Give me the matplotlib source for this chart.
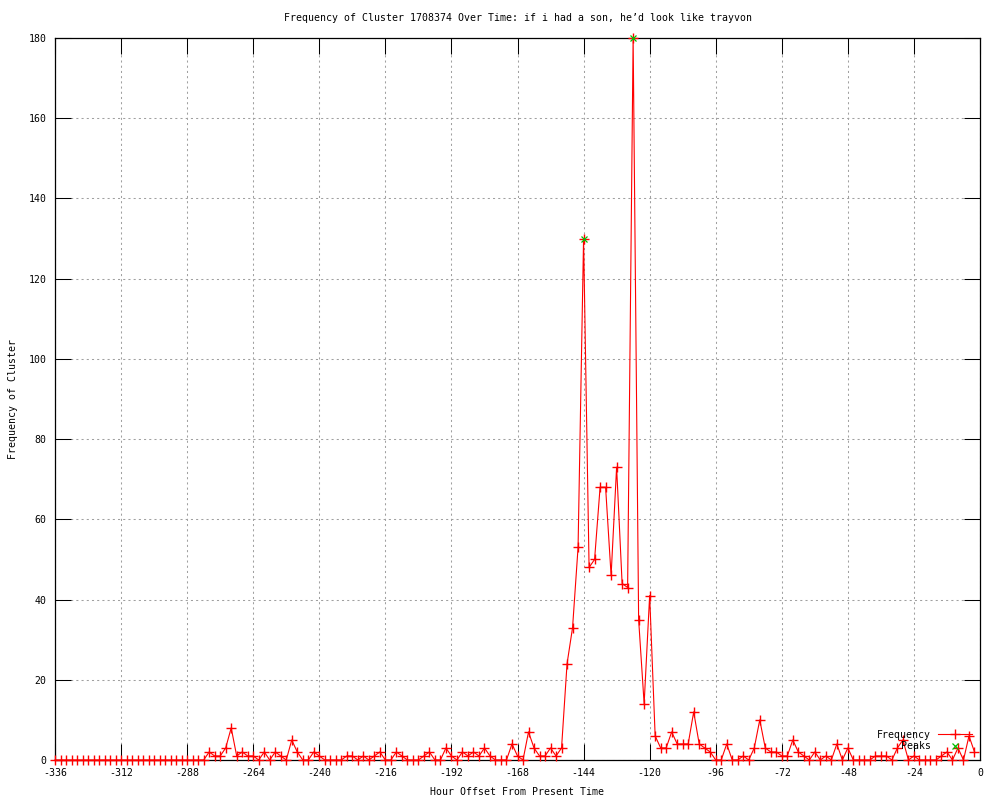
import matplotlib
matplotlib.use("Agg")
import matplotlib.pyplot as plt

# Hour offsets (every 2 hours) and cluster frequency
hours = list(range(-336, 0, 2))
freq = [0] * 28 + [
    2, 1, 1, 3, 8, 1, 2, 1, 1, 0,      # -280 .. -262
    2, 0, 2, 1, 0, 5, 2, 0, 0, 2,      # -260 .. -242
    1, 0, 0, 0, 0, 1, 1, 0, 1, 0,      # -240 .. -222
    1, 2, 0, 0, 2, 1, 0, 0, 0, 1,      # -220 .. -202
    2, 0, 0, 3, 1, 0, 2, 1, 2, 1,      # -200 .. -182
    3, 1, 0, 0, 0, 4, 1, 0, 7, 3,      # -180 .. -162
    1, 1, 3, 1, 3, 24, 33, 53, 130, 48,  # -160 .. -142
    50, 68, 68, 46, 73, 44, 43, 180, 35, 14,  # -140 .. -122
    41, 6, 3, 3, 7, 4, 4, 4, 12, 4,    # -120 .. -102
    3, 2, 0, 0, 4, 0, 0, 1, 0, 3,      # -100 .. -82
    10, 3, 2, 2, 1, 1, 5, 2, 1, 0,     # -80 .. -62
    2, 0, 1, 0, 4, 0, 3, 0, 0, 0,      # -60 .. -42
    0, 1, 1, 1, 0, 3, 5, 0, 1, 0,      # -40 .. -22
    0, 0, 0, 1, 2, 0, 3, 0, 6, 2,      # -20 .. -2
]

peak_hours = [-144, -126]
peak_values = [130, 180]

x_ticks = list(range(-336, 1, 24))
y_ticks = list(range(0, 181, 20))

title = "Frequency of Cluster 1708374 Over Time: if i had a son, he\u2019d look like trayvon"

plt.rcParams['font.family'] = ['DejaVu Sans Mono']
plt.rcParams['axes.unicode_minus'] = False
FS = 7.1

fig = plt.figure(figsize=(10, 8), dpi=100)
ax = fig.add_axes([0.055, 0.05, 0.925, 0.9025])

ax.plot(hours, freq, color='#ff0000', lw=0.8, marker='+', markersize=6.5,
        markeredgewidth=1.0, label='Frequency', clip_on=False, zorder=3)
ax.plot(peak_hours, peak_values, linestyle='none', color='#00c000', marker='x',
        markersize=5, markeredgewidth=0.9, label='Peaks', clip_on=False, zorder=4)

ax.set_xlim(-336, 0)
ax.set_ylim(0, 180)
ax.set_xticks(x_ticks)
ax.set_yticks(y_ticks)
ax.set_xticklabels([str(t) for t in x_ticks], fontsize=FS)
ax.set_yticklabels([str(t) for t in y_ticks], fontsize=FS)

ax.tick_params(direction='in', length=11.5, width=0.75, top=True, right=True,
               pad=6, colors='black')
ax.grid(True, color='#a0a0a0', linestyle=(0, (2, 3)), linewidth=0.75)
for s in ax.spines.values():
    s.set_linewidth(0.9)
    s.set_color('black')

ax.set_title(title, fontsize=FS, pad=12)
ax.set_xlabel("Hour Offset From Present Time", fontsize=FS, labelpad=6)
ax.set_ylabel("Frequency of Cluster", fontsize=FS, labelpad=8)

leg = ax.legend(loc='lower right', bbox_to_anchor=(0.991, 0.012), frameon=False,
                markerfirst=False, fontsize=FS, handlelength=3.4,
                handletextpad=0.7, labelspacing=0.15, borderpad=0,
                borderaxespad=0)

fig.savefig("out.png", dpi=100)
